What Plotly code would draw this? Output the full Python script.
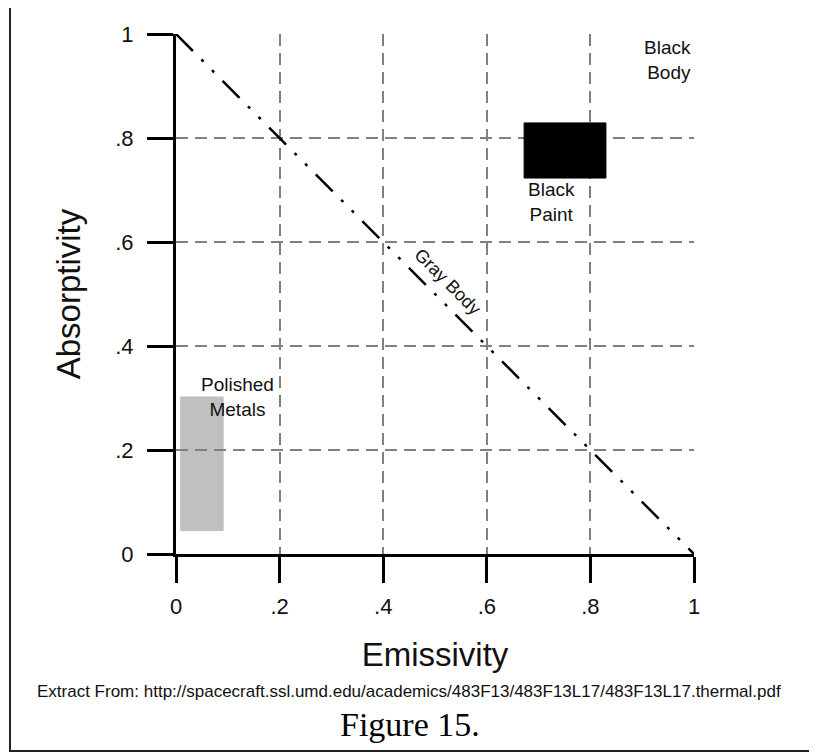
import plotly.graph_objects as go

# ---- data ----
tick_vals = [0, 0.2, 0.4, 0.6, 0.8, 1]
tick_text = ["0", ".2", ".4", ".6", ".8", "1"]

gray_body_x = [0, 1]
gray_body_y = [1, 0]

black_paint_x = [0.672, 0.830]
black_paint_y = [0.723, 0.829]

polished_x = [0.009, 0.091]
polished_y = [0.045, 0.302]

labels = ["Black<br>Body", "Black<br>Paint", "Polished<br>Metals", "Gray Body"]
label_x = [0.999, 0.724, 0.118, 0.525]
label_y = [0.950, 0.677, 0.301, 0.523]

FONT = "Liberation Sans, Arial, sans-serif"
SERIF = "Liberation Serif, Times New Roman, serif"

fig = go.Figure()

# gray body line (dash-dot-dot)
fig.add_trace(go.Scatter(
    x=gray_body_x, y=gray_body_y, mode="lines",
    line=dict(color="black", width=2.5, dash="24px,12px,3px,12px,3px,12px"),
    hoverinfo="skip", showlegend=False,
))

shapes = [
    dict(type="rect", xref="x", yref="y",
         x0=black_paint_x[0], x1=black_paint_x[1],
         y0=black_paint_y[0], y1=black_paint_y[1],
         fillcolor="black", line=dict(color="black", width=1), layer="above"),
    dict(type="rect", xref="x", yref="y",
         x0=polished_x[0], x1=polished_x[1],
         y0=polished_y[0], y1=polished_y[1],
         fillcolor="#c0c0c0", line=dict(color="#c0c0c0", width=1), layer="below"),
    # outer frame of the figure
    dict(type="rect", xref="paper", yref="paper",
         xsizemode="pixel", ysizemode="pixel", xanchor=0, yanchor=0,
         x0=-166, x1=636, y0=-197, y1=549,
         line=dict(color="#222222", width=2), fillcolor="rgba(0,0,0,0)"),
]

annotations = []
aligns = ["right", "center", "center", "center"]
xanchors = ["right", "center", "center", "center"]
for i, t in enumerate(labels):
    annotations.append(dict(
        x=label_x[i], y=label_y[i], xref="x", yref="y", text=t,
        showarrow=False, align=aligns[i], xanchor=xanchors[i], yanchor="middle",
        textangle=45 if t == "Gray Body" else 0,
        font=dict(family=FONT, size=19 if t != "Gray Body" else 18, color="#111111"),
    ))

# footer texts are centred on the page, not on the plot area
annotations.append(dict(
    x=0.449, y=-0.2635, xref="paper", yref="paper",
    text="Extract From: http://spacecraft.ssl.umd.edu/academics/483F13/483F13L17/483F13L17.thermal.pdf",
    showarrow=False, xanchor="center", yanchor="middle",
    font=dict(family=FONT, size=17, color="#111111"),
))
annotations.append(dict(
    x=0.451, y=-0.3288, xref="paper", yref="paper",
    text="Figure 15.", showarrow=False, xanchor="center", yanchor="middle",
    font=dict(family=SERIF, size=34, color="#000000"),
))

axis_common = dict(
    range=[0, 1], tickvals=tick_vals, ticktext=tick_text,
    showgrid=True, gridcolor="#808080", gridwidth=1.5, griddash="12px,7px",
    showline=True, linecolor="black", linewidth=3,
    ticks="outside", ticklen=26, tickwidth=3, tickcolor="black",
    zeroline=False, tickfont=dict(family=FONT, size=22, color="#111111"),
    fixedrange=True,
)

# the page body has an 8px default margin, so the figure is shrunk by 8px
fig.update_layout(
    width=809, height=748,
    margin=dict(l=168, r=123, t=26, b=202),
    paper_bgcolor="white", plot_bgcolor="white",
    xaxis=dict(**axis_common, ticklabelstandoff=5,
               title=dict(text="Emissivity", standoff=25,
                          font=dict(family=FONT, size=33, color="#111111"))),
    yaxis=dict(**axis_common, ticklabelstandoff=9,
               title=dict(text="Absorptivity", standoff=25,
                          font=dict(family=FONT, size=33, color="#111111"))),
    shapes=shapes, annotations=annotations,
    showlegend=False,
)

fig.write_html("out.html")
